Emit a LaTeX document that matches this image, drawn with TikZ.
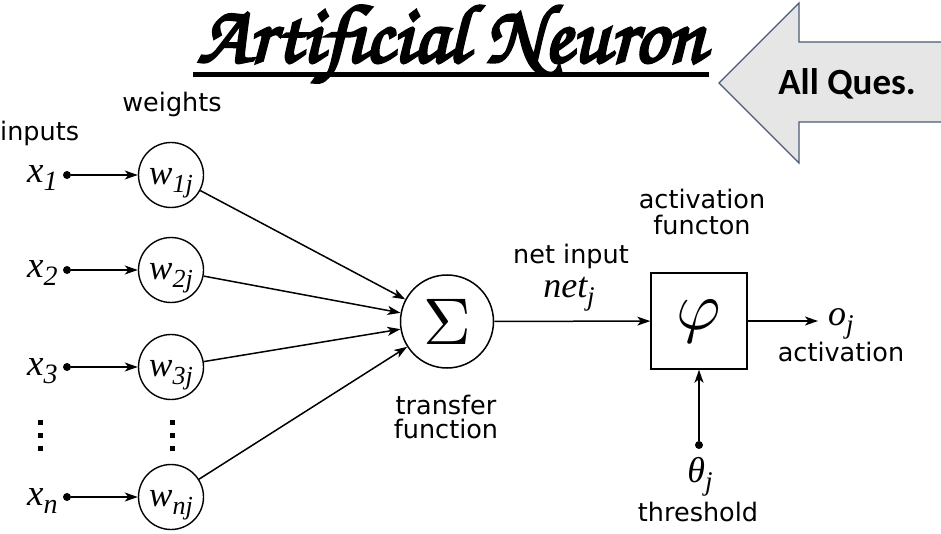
\documentclass[tikz,border=0pt]{standalone}
\usepackage{fontspec}
\setmainfont{DejaVu Sans}
\newfontfamily\serfont{Liberation Serif}
\newfontfamily\titfont{texgyrechorus-mediumitalic.otf}[FakeBold=3.5]
\newfontfamily\qfont{Carlito}
\usetikzlibrary{arrows.meta}
\newcommand{\fs}[1]{\fontsize{#1}{#1}\selectfont}
\newcommand{\sv}[4]{{\serfont\itshape\fs{#1}#2\raisebox{-#4pt}{\fs{\numexpr#1*75/100\relax}#3}}}
\tikzset{
  lbl/.style={inner sep=0pt, font=\fs{25.5}},
  wcirc/.style={circle, draw, line width=1.4pt, minimum size=65pt, inner sep=0pt},
  wlab/.style={inner sep=0pt, yshift=-8pt},
  conn/.style={line width=1.5pt, -{Stealth[length=13pt,width=9pt,inset=3.5pt]}},
  dotn/.style={circle, fill, minimum size=8pt, inner sep=0pt},
  vdot/.style={fill, minimum size=5pt, inner sep=0pt},
}
\begin{document}
\begin{tikzpicture}[x=1pt,y=-1pt]
\useasboundingbox (0,0) rectangle (941,534);
% title
\node[inner sep=0pt, anchor=base] (title) at (451,62) {\titfont\fs{83}Artificial Neuron};
\draw[line width=5pt] (193,75) -- (709,75);
% block arrow
\draw[line width=1.2pt, draw={rgb,255:red,74;green,90;blue,115}, fill={rgb,255:red,230;green,230;blue,230}]
  (719,83) -- (799,3) -- (799,42) -- (950,42) -- (950,122) -- (799,122) -- (799,163) -- cycle;
\node[inner sep=0pt] (allq) at (847,84) {\qfont\bfseries\fs{37}All Ques.};
% headers
\node[lbl, anchor=base west] (inputs) at (0,141) {inputs};
\node[lbl, anchor=base] (weights) at (172,112) {weights};
% rows
\foreach \i/\y/\s in {1/175/1,2/270/2,3/367/3,n/497/n}{
  \node[inner sep=0pt, anchor=base west] (x\i) at (27,\y+8) {\sv{37}{x}{\s}{8}};
  \node[dotn] (d\i) at (67,\y) {};
  \node[wcirc, label={[wlab]center:\sv{35}{w}{\s j}{8}}] (w\i) at (171,\y) {};
}
\foreach \i in {1,2,3,n}{ \draw[conn] (d\i) -- (w\i); }
% vertical dots
\foreach \xx/\nm in {40/a,172/b}{
  \node[vdot] (v\nm1) at (\xx,422) {};
  \node[vdot] (v\nm2) at (\xx,435) {};
  \node[vdot] (v\nm3) at (\xx,448) {};
}
% sum
\node[circle, draw, line width=1.5pt, minimum size=93pt, inner sep=0pt] (sum) at (447,321.5) {\scalebox{6.6}{$\Sigma$}};
\foreach \i in {1,2,3,n}{ \draw[conn] (w\i) -- (sum); }
\node[lbl, anchor=base] (tr1) at (446,414) {transfer};
\node[lbl, anchor=base] (tr2) at (446,438) {function};
% phi box
\node[draw, line width=1.5pt, minimum width=96pt, minimum height=96pt, inner sep=0pt] (phi) at (699,321) {\scalebox{6.8}{$\varphi$}};
\draw[conn] (sum) -- (phi);
\node[lbl, anchor=base] (ni) at (571,264) {net input};
\node[inner sep=0pt, anchor=base] (netj) at (569,298) {\sv{36}{net}{j}{8}};
\node[lbl, anchor=base] (af1) at (702,209) {activation};
\node[lbl, anchor=base] (af2) at (702,235) {functon};
% output
\coordinate (oend) at (818,321);
\draw[conn] (phi.east) -- (oend);
\node[inner sep=0pt, anchor=base west] (oj) at (828,325) {\sv{36}{o}{j}{8}};
\node[lbl, anchor=base] (act) at (841,361) {activation};
% threshold
\node[dotn] (th) at (699,445) {};
\draw[conn] (th) -- (phi);
\node[inner sep=0pt, anchor=base] (thj) at (700,482) {\sv{36}{θ}{j}{8}};
\node[lbl, anchor=base] (thr) at (698,521) {threshold};
\end{tikzpicture}
\end{document}
